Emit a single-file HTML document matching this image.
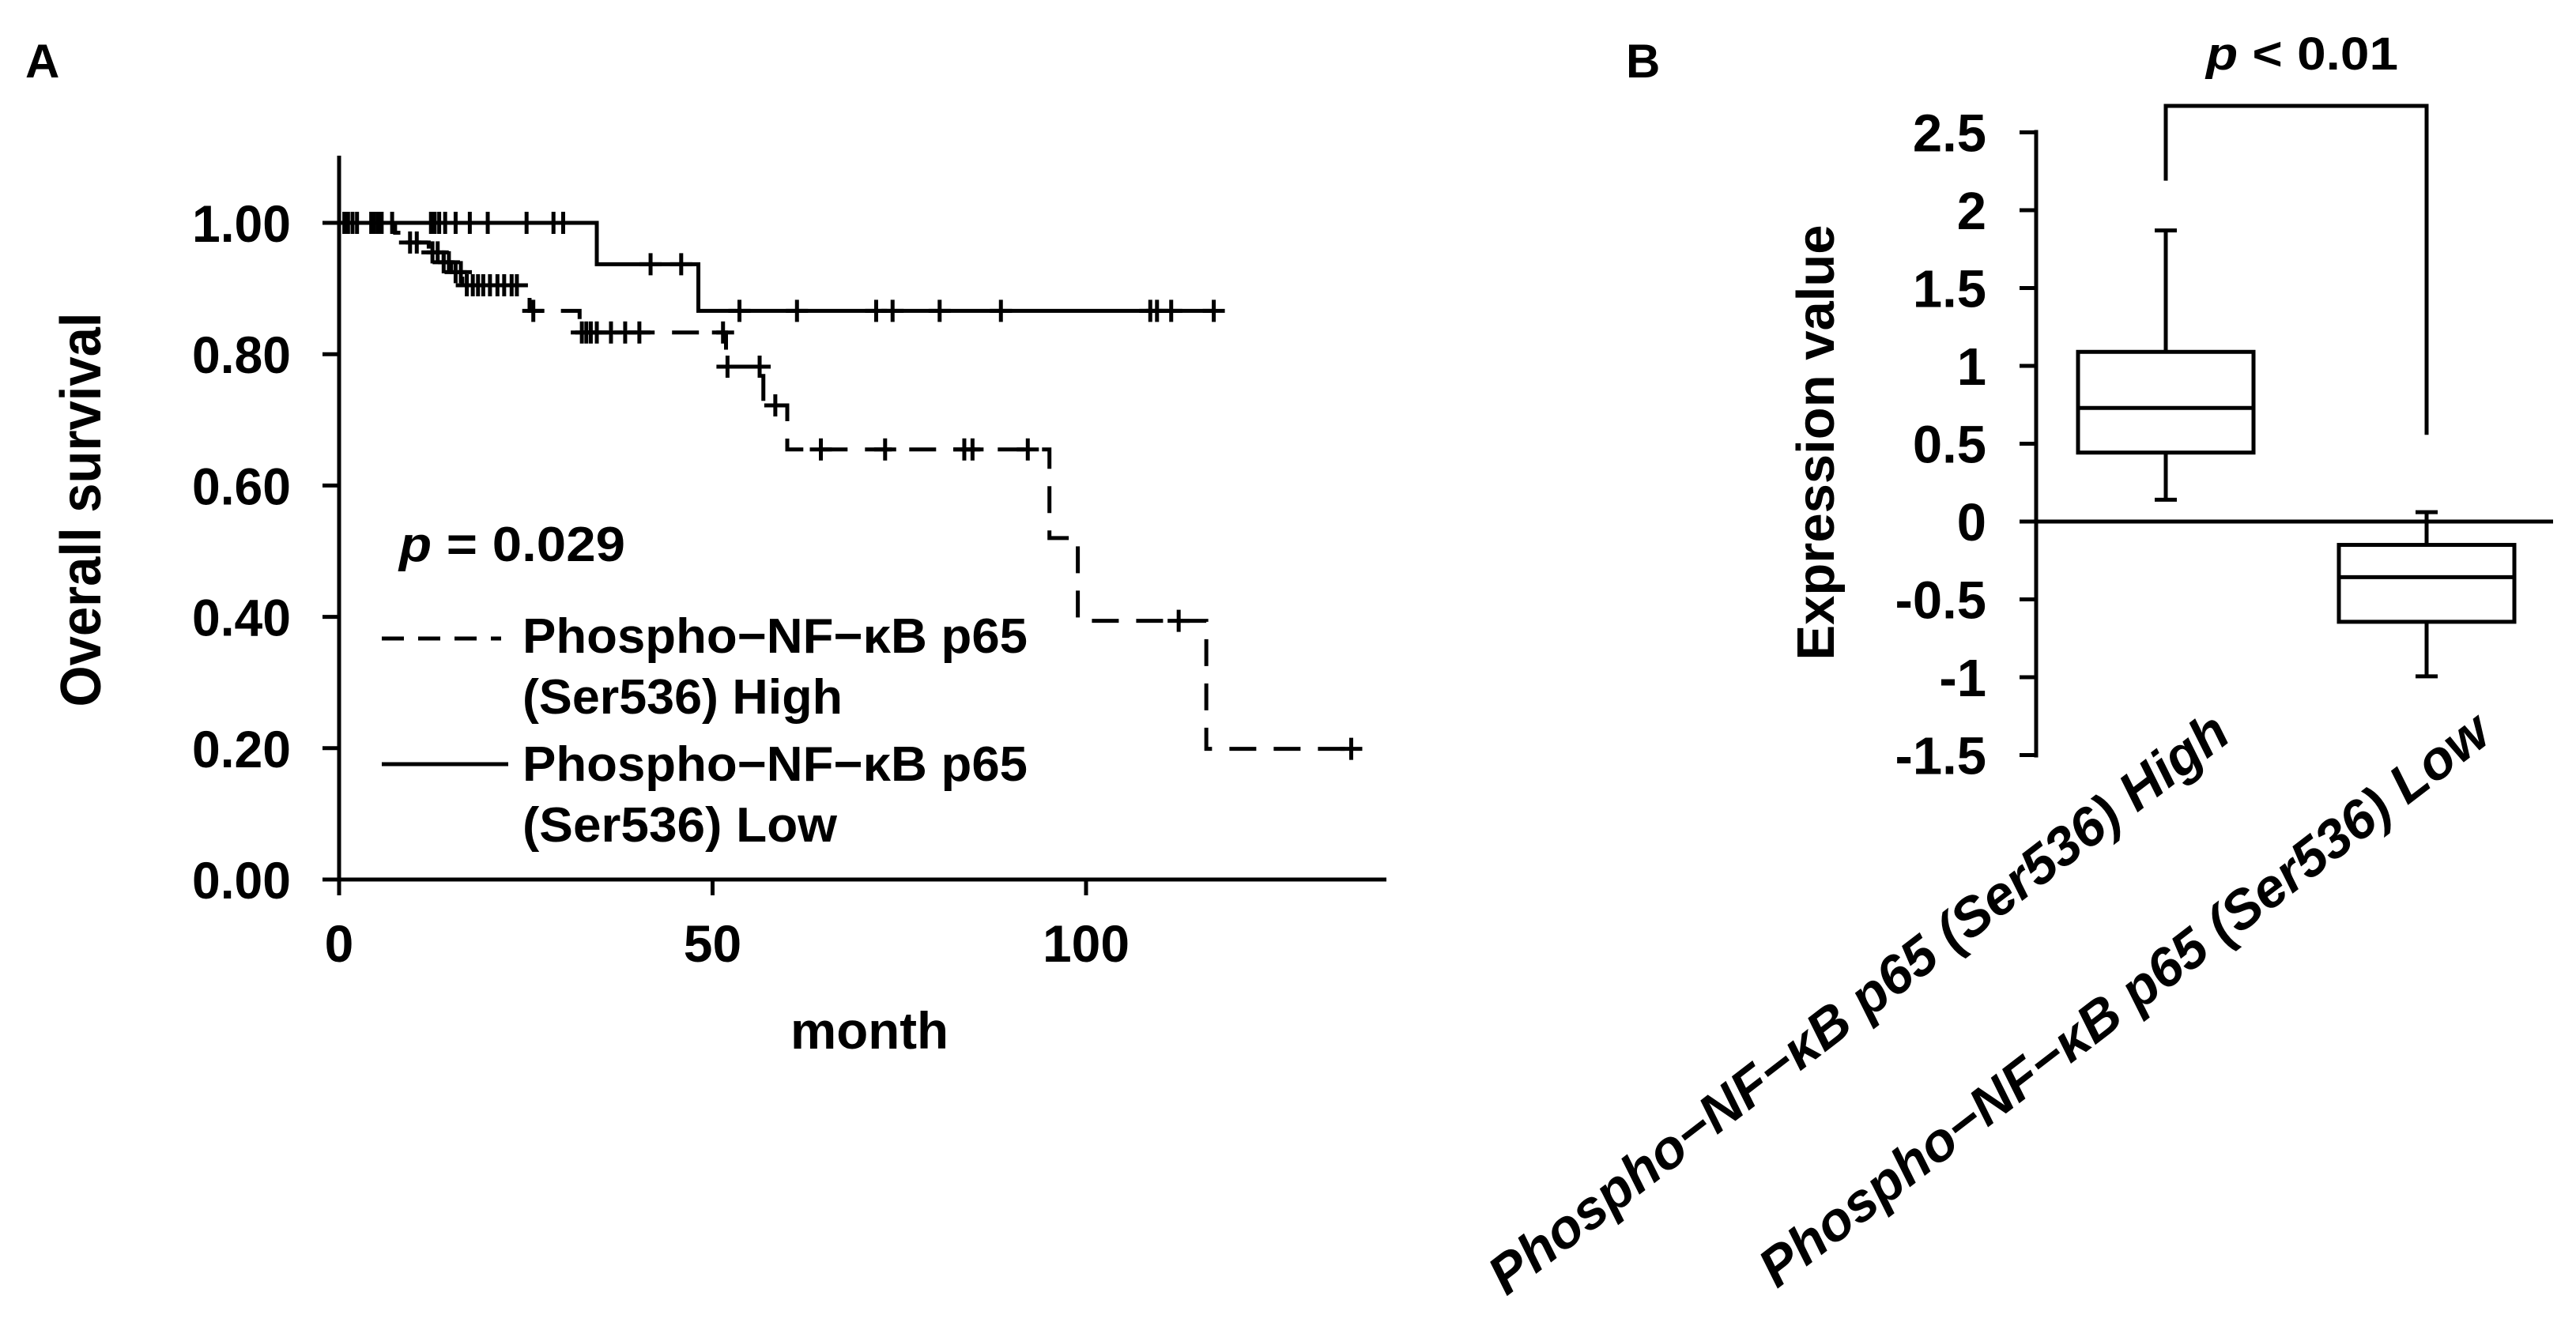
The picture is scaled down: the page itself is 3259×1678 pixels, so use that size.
<!DOCTYPE html>
<html><head><meta charset="utf-8"><style>
html,body{margin:0;padding:0;background:#fff;}
svg{display:block;font-family:"Liberation Sans",Arial,sans-serif;font-weight:bold;}
</style></head><body>
<svg id="fig" width="3259" height="1678" viewBox="0 0 3259 1678" xmlns="http://www.w3.org/2000/svg">
<rect width="3259" height="1678" fill="#fff"/>
<text x="32" y="98" font-size="60">A</text>
<text x="2057" y="98" font-size="60">B</text>
<g id="pa"></g>
<g id="pb"></g>
<text transform="translate(127,645) rotate(-90)" text-anchor="middle" font-size="72" textLength="499" lengthAdjust="spacingAndGlyphs">Overall survival</text>
<text x="1000" y="1327" font-size="66" textLength="200" lengthAdjust="spacingAndGlyphs">month</text>
<text x="505" y="710" font-size="62" textLength="286" lengthAdjust="spacingAndGlyphs"><tspan font-style="italic">p</tspan> = 0.029</text>
<line x1="483" y1="808" x2="634" y2="808" stroke="#000" stroke-width="5" stroke-dasharray="28 18"/>
<text font-size="62"><tspan x="661" y="826" textLength="639" lengthAdjust="spacingAndGlyphs">Phospho−NF−κB p65</tspan><tspan x="661" y="903" textLength="405" lengthAdjust="spacingAndGlyphs">(Ser536) High</tspan></text>
<line x1="483" y1="967" x2="643" y2="967" stroke="#000" stroke-width="5"/>
<text font-size="62"><tspan x="661" y="988" textLength="639" lengthAdjust="spacingAndGlyphs">Phospho−NF−κB p65</tspan><tspan x="661" y="1065" textLength="398" lengthAdjust="spacingAndGlyphs">(Ser536) Low</tspan></text>
<text transform="translate(2320,560) rotate(-90)" text-anchor="middle" font-size="67">Expression value</text>
<text x="2791" y="88" font-size="58" textLength="243" lengthAdjust="spacingAndGlyphs"><tspan font-style="italic">p</tspan> &lt; 0.01</text>
</svg>
<script>
// ---------- Panel A data ----------
const aYTicks = [0, 0.2, 0.4, 0.6, 0.8, 1.0];
const aYTickLabels = ["0.00","0.20","0.40","0.60","0.80","1.00"];
const aXTicks = [0, 50, 100];
const aXTickLabels = ["0","50","100"];
const lowStepT = [0, 34.5, 48.1];
const lowStepS = [1.0, 0.937, 0.866];
const lowEnd = 117.1;
const lowCensor = [0.7,1.2,1.8,2.4,4.3,4.7,5.2,5.7,7.1,12.3,12.8,13.4,14.2,15.6,17.5,19.9,25.1,28.7,30.0,41.7,45.8,53.6,61.3,71.9,74.1,80.4,88.6,108.6,109.5,111.4,117.1];
const highStepT = [0, 7.5, 9.0, 12.0, 14.0, 15.0, 16.5, 25.5, 32.2, 51.8, 56.8, 60.0, 95.1, 98.9, 116.1];
const highStepS = [1.0, 0.985, 0.97, 0.955, 0.94, 0.925, 0.905, 0.866, 0.833, 0.781, 0.722, 0.655, 0.52, 0.394, 0.199];
const highEnd = 135.5;
const highCensor = [9.5,10.4,12.5,13.2,14.0,14.7,15.6,16.3,17.1,17.9,18.6,19.3,20.2,21.2,22.1,23.1,23.8,26.0,32.5,33.1,33.7,34.5,36.4,38.3,40.2,51.4,52.0,56.3,58.4,64.5,73.1,83.7,84.8,92.2,112.4,135.5];
// ---------- Panel B data ----------
const bYTicks = [-1.5,-1,-0.5,0,0.5,1,1.5,2,2.5];
const bYTickLabels = ["-1.5","-1","-0.5","0","0.5","1","1.5","2","2.5"];
const bGroups = ["Phospho−NF−κB p65 (Ser536) High","Phospho−NF−κB p65 (Ser536) Low"];
const bMax = [1.87, 0.06];
const bQ3 = [1.09, -0.15];
const bMed = [0.73, -0.357];
const bQ1 = [0.443, -0.644];
const bMin = [0.14, -0.994];
const bBracketTop = 2.67;
const bBracketLeftEnd = 2.19;
const bBracketRightEnd = 0.557;

const NS="http://www.w3.org/2000/svg";
function mk(tag, attrs, parent){const e=document.createElementNS(NS,tag);for(const k in attrs)e.setAttribute(k,attrs[k]);parent.appendChild(e);return e;}

// Panel A axes
const ax = t => 429 + t*(1374-429)/100;
const ay = s => 1113 - s*831;
const pa = document.getElementById('pa');
let e;
e = mk('line',{x1:429,y1:197,x2:429,y2:1133,stroke:'#000','stroke-width':5},pa);


e = mk('line',{x1:408,y1:1113,x2:1754,y2:1113,stroke:'#000','stroke-width':5},pa);


aYTicks.forEach((v,i)=>{
  const y=ay(v);
  let t=mk('line',{x1:408,y1:y,x2:429,y2:y,stroke:'#000','stroke-width':5},pa);
  
  
  let l=mk('text',{x:368,y:y+24,'text-anchor':'end','font-size':66,textLength:125,lengthAdjust:'spacingAndGlyphs'},pa);
  l.textContent=aYTickLabels[i];
  
  
});
aXTicks.forEach((v,i)=>{
  const x=ax(v);
  let t=mk('line',{x1:x,y1:1113,x2:x,y2:1133,stroke:'#000','stroke-width':5},pa);
  
  
  let l=mk('text',{x:x,y:1217,'text-anchor':'middle','font-size':66},pa);
  l.textContent=aXTickLabels[i];
  
  
});
function stepPath(T,S,end){
  let d='M'+ax(T[0])+','+ay(S[0]);
  for(let i=1;i<T.length;i++){d+=' H'+ax(T[i])+' V'+ay(S[i]);}
  d+=' H'+ax(end);return d;
}
function survAt(T,S,t){let s=S[0];for(let i=0;i<T.length;i++){if(T[i]<=t)s=S[i];}return s;}
e=mk('path',{d:stepPath(highStepT,highStepS,highEnd),fill:'none',stroke:'#000','stroke-width':5,'stroke-dasharray':'34 22'},pa);


e=mk('path',{d:stepPath(lowStepT,lowStepS,lowEnd),fill:'none',stroke:'#000','stroke-width':5},pa);


function censor(T,S,list,name){
  list.forEach(t=>{
    const x=ax(t),y=ay(survAt(T,S,t));
    let p=mk('path',{d:`M${x-14},${y} H${x+14} M${x},${y-14} V${y+14}`,stroke:'#000','stroke-width':5,fill:'none'},pa);
    
    
  });
}
censor(highStepT,highStepS,highCensor,'high-censor-mark');
censor(lowStepT,lowStepS,lowCensor,'low-censor-mark');

// Panel B
const pb=document.getElementById('pb');
const by = v => 660 - v*197;
const bCenters=[2740,3070];
const halfW=111;
e=mk('line',{x1:2576,y1:by(2.5)-3,x2:2576,y2:by(-1.5)+3,stroke:'#000','stroke-width':5},pb);


e=mk('line',{x1:2555,y1:by(0),x2:3230,y2:by(0),stroke:'#000','stroke-width':5},pb);


bYTicks.forEach((v,i)=>{
  const y=by(v);
  let t=mk('line',{x1:2555,y1:y,x2:2576,y2:y,stroke:'#000','stroke-width':5},pb);
  
  
  let l=mk('text',{x:2513,y:y+24,'text-anchor':'end','font-size':67},pb);
  l.textContent=bYTickLabels[i];
  
  
});
bGroups.forEach((g,i)=>{
  const c=bCenters[i];
  let w=mk('path',{d:`M${c},${by(bMax[i])} V${by(bQ3[i])} M${c},${by(bQ1[i])} V${by(bMin[i])} M${c-14},${by(bMax[i])} H${c+14} M${c-14},${by(bMin[i])} H${c+14}`,stroke:'#000','stroke-width':5,fill:'none'},pb);
  
  
  let r=mk('rect',{x:c-halfW,y:by(bQ3[i]),width:2*halfW,height:by(bQ1[i])-by(bQ3[i]),fill:'#fff',stroke:'#000','stroke-width':5},pb);
  
  
  let m=mk('line',{x1:c-halfW,y1:by(bMed[i]),x2:c+halfW,y2:by(bMed[i]),stroke:'#000','stroke-width':5},pb);
  
  
  let l=mk('text',{transform:`translate(${c+85},${by(-1.5)-20}) rotate(-37.5)`,'text-anchor':'end','font-size':69,'font-style':'italic'},pb);
  l.textContent=g;
  
  
});
e=mk('path',{d:`M${bCenters[0]},${by(bBracketLeftEnd)} V${by(bBracketTop)} H${bCenters[1]} V${by(bBracketRightEnd)}`,fill:'none',stroke:'#000','stroke-width':5},pb);


</script>
</body></html>
